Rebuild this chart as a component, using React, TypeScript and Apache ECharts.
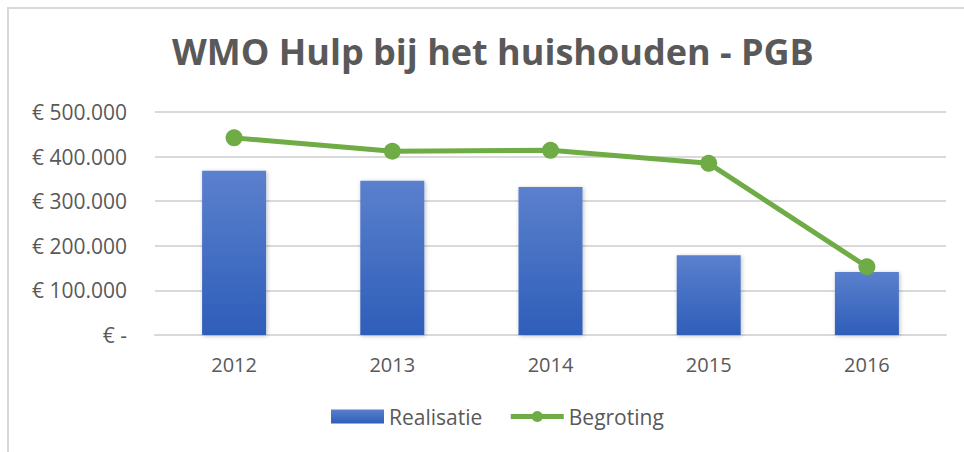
import React, { useEffect, useRef } from "react";
import * as echarts from "echarts";

const categories = ["2012", "2013", "2014", "2015", "2016"];
const realisatie = [368000, 346000, 332000, 179000, 141000];
const begroting = [442000, 412000, 414000, 385000, 153000];
const yTicks = [0, 100000, 200000, 300000, 400000, 500000];

const FONT = "'Open Sans', 'Liberation Sans', sans-serif";

function fmt(v: number): string {
  if (v === 0) return "€ -";
  return "€ " + v.toLocaleString("de-DE");
}

export default function App() {
  const ref = useRef<HTMLDivElement>(null);
  useEffect(() => {
    if (!ref.current) return;
    const chart = echarts.init(ref.current, undefined, { renderer: "svg" });
    chart.setOption({
      animation: false,
      backgroundColor: "#ffffff",
      title: {
        text: "WMO Hulp bij het huishouden - PGB",
        left: 167,
        top: 28,
        textStyle: { fontFamily: FONT, fontWeight: "bold", fontSize: 36, color: "#595959" },
      },
      graphic: [
        { type: "line", shape: { x1: 7, y1: 8, x2: 964, y2: 8 }, style: { stroke: "#d9d9d9", lineWidth: 2 } },
        { type: "line", shape: { x1: 8, y1: 7, x2: 8, y2: 452 }, style: { stroke: "#d9d9d9", lineWidth: 2 } },
      ],
      legend: {
        bottom: 20,
        left: 326,
        itemWidth: 53,
        itemHeight: 14,
        itemGap: 26,
        lineStyle: { width: 5 },
        textStyle: { fontFamily: FONT, fontSize: 21, color: "#595959" },
        data: [
          { name: "Realisatie", icon: "rect" },
          { name: "Begroting", lineStyle: { width: 5, color: "#6fac46" }, itemStyle: { color: "#6fac46" } },
        ],
      },
      grid: { left: 155, right: 18, top: 112, bottom: 117 },
      xAxis: {
        type: "category",
        data: categories,
        axisLine: { lineStyle: { color: "#d9d9d9", width: 2 } },
        axisTick: { show: false },
        axisLabel: { fontFamily: FONT, fontSize: 20, color: "#595959", margin: 19 },
      },
      yAxis: {
        type: "value",
        min: 0,
        max: 500000,
        interval: 100000,
        axisLine: { show: false },
        axisTick: { show: false },
        splitLine: { lineStyle: { color: "#d9d9d9", width: 2 } },
        axisLabel: {
          fontFamily: FONT,
          fontSize: 21,
          color: "#595959",
          margin: 28,
          formatter: (v: number) => (yTicks.includes(v) ? fmt(v) : ""),
        },
      },
      series: [
        {
          name: "Realisatie",
          type: "bar",
          data: realisatie,
          barWidth: 64,
          itemStyle: {
            color: new echarts.graphic.LinearGradient(0, 0, 0, 1, [
              { offset: 0, color: "#5b80cd" },
              { offset: 1, color: "#2e5eb9" },
            ]),
            shadowColor: "rgba(0,0,0,0.25)",
            shadowBlur: 4,
            shadowOffsetX: 1,
            shadowOffsetY: 1,
          },
        },
        {
          name: "Begroting",
          type: "line",
          data: begroting,
          symbol: "circle",
          symbolSize: 17,
          lineStyle: { color: "#6fac46", width: 5 },
          itemStyle: { color: "#6fac46" },
        },
      ],
    });
    return () => chart.dispose();
  }, []);
  return <div ref={ref} style={{ width: 964, height: 452, position: "absolute", left: 0, top: 0 }} />;
}
